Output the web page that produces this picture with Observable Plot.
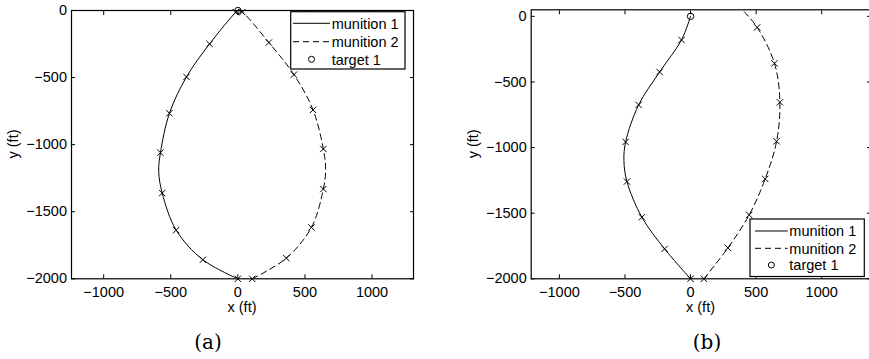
<!DOCTYPE html>
<html><head><meta charset="utf-8">
<script src="https://cdn.jsdelivr.net/npm/d3@7"></script>
<script src="https://cdn.jsdelivr.net/npm/@observablehq/plot@0.6"></script>
<style>
html,body{margin:0;padding:0;overflow:hidden;background:#fff;}
#wrap{position:relative;width:869px;height:359px;overflow:hidden;background:#fff;}
#wrap > svg{position:absolute;top:0;}
</style></head><body><div id="wrap"></div>
<script>
// ---- shared ticks ----
const xTicks = [-1000, -500, 0, 500, 1000];
const yTicks = [0, -500, -1000, -1500, -2000];

// ---- panel (a) ----
const aM1MarkX = [0, -261, -460, -564, -577, -510, -383, -211, -15];
const aM1MarkY = [-2000, -1858, -1637, -1361, -1060, -766, -495, -249, -12];
const aM1PathX = [0, -261, -460, -564, -590, -577, -510, -383, -211, -15, 0];
const aM1PathY = [-2000, -1858, -1637, -1361, -1200, -1060, -766, -495, -249, -12, 0];
const aM2MarkX = [107, 361, 548, 637, 637, 560, 418, 231, 33];
const aM2MarkY = [-2000, -1846, -1617, -1331, -1032, -741, -478, -239, -12];
const aM2PathX = [107, 361, 548, 637, 654, 637, 560, 418, 231, 33, 3];
const aM2PathY = [-2000, -1846, -1617, -1331, -1180, -1032, -741, -478, -239, -12, 0];
const aTargetX = [0];
const aTargetY = [0];

// ---- panel (b) ----
const bM1MarkX = [0, -198, -371, -485, -495, -396, -236, -69];
const bM1MarkY = [-2000, -1772, -1531, -1259, -957, -675, -424, -180];
const bM1PathX = [0, -198, -371, -485, -508, -495, -396, -236, -69, 0];
const bM1PathY = [-2000, -1772, -1531, -1259, -1100, -957, -675, -424, -180, 0];
const bM2MarkX = [102, 285, 447, 569, 656, 681, 640, 508];
const bM2MarkY = [-2000, -1764, -1513, -1239, -952, -655, -358, -84];
const bM2PathX = [102, 285, 447, 569, 656, 681, 640, 508, 400];
const bM2PathY = [-2000, -1764, -1513, -1239, -952, -655, -358, -84, 45];
const bTargetX = [0];
const bTargetY = [0];

const seriesNames = ["munition 1", "munition 2", "target 1"];
const captions = ["(a)", "(b)"];

const fmt = d => d < 0 ? "\u2212" + Math.abs(d) : String(d);
const blank = () => "";
const FONT = "'Liberation Sans', Arial, Helvetica, sans-serif";

function panel(o) {
  return Plot.plot({
    width: o.width, height: o.height,
    marginLeft: o.ml, marginRight: o.mr, marginTop: o.mt, marginBottom: o.mb,
    style: {fontFamily: FONT, fontSize: "14.5px", background: "transparent", color: "black", overflow: "visible"},
    x: {domain: o.xDomain, label: null},
    y: {domain: o.yDomain, label: null},
    marks: [
      Plot.axisX(xTicks, {anchor: "bottom", tickSize: 4, inset: 4, tickPadding: 8, tickFormat: fmt, label: null}),
      Plot.axisX(xTicks, {anchor: "top", tickSize: 4, inset: 4, tickFormat: blank, label: null}),
      Plot.axisY(yTicks, {anchor: "left", tickSize: 4, inset: 4, tickPadding: 4.5, tickFormat: fmt, label: null}),
      Plot.axisY(yTicks, {anchor: "right", tickSize: 4, inset: 4, tickFormat: blank, label: null}),
      Plot.line(o.p1x, {x: o.p1x, y: o.p1y, curve: "catmull-rom", stroke: "black", strokeWidth: 1, clip: true}),
      Plot.line(o.p2x, {x: o.p2x, y: o.p2y, curve: "catmull-rom", stroke: "black", strokeWidth: 1, strokeDasharray: "6,4", clip: true}),
      Plot.dot(o.m1x, {x: o.m1x, y: o.m1y, symbol: "times", r: 3, stroke: "black", strokeWidth: 1}),
      Plot.dot(o.m2x, {x: o.m2x, y: o.m2y, symbol: "times", r: 3, stroke: "black", strokeWidth: 1}),
      Plot.dot(o.tx, {x: o.tx, y: o.ty, r: 3.2, stroke: "black", fill: "none", strokeWidth: 1}),
      Plot.frame({stroke: "black", strokeWidth: 1.2})
    ]
  });
}

const wrap = document.getElementById("wrap");
const pa = panel({width: 434, height: 310, ml: 71, mr: 21, mt: 10, mb: 31.7,
  xDomain: [-1240, 1309], yDomain: [-2000, 0],
  p1x: aM1PathX, p1y: aM1PathY, p2x: aM2PathX, p2y: aM2PathY,
  m1x: aM1MarkX, m1y: aM1MarkY, m2x: aM2MarkX, m2y: aM2MarkY, tx: aTargetX, ty: aTargetY});
pa.style.left = "0px";
wrap.appendChild(pa);
const pb = panel({width: 440, height: 310, ml: 96.7, mr: 4, mt: 9.3, mb: 31.7,
  xDomain: [-1215, 1372], yDomain: [-2000, 50],
  p1x: bM1PathX, p1y: bM1PathY, p2x: bM2PathX, p2y: bM2PathY,
  m1x: bM1MarkX, m1y: bM1MarkY, m2x: bM2MarkX, m2y: bM2MarkY, tx: bTargetX, ty: bTargetY});
pb.style.left = "434px";
wrap.appendChild(pb);

// ---- overlay: axis titles, legends, captions ----
const ov = d3.select(wrap).append("svg").attr("width", 869).attr("height", 359).style("left", "0px")
  .style("font-family", FONT).style("font-size", "14.5px");

function axisTitles(cx, yx, cy) {
  ov.append("text").attr("x", cx).attr("y", 312).attr("text-anchor", "middle").text("x (ft)");
  ov.append("text").attr("transform", `translate(${yx},${cy}) rotate(-90)`).attr("text-anchor", "middle").text("y (ft)");
}
axisTitles(242, 17.7, 144);
axisTitles(700.5, 477.7, 143.8);

function legend(L) {
  const g = ov.append("g");
  g.append("rect").attr("x", L.x0).attr("y", L.y0).attr("width", L.x1 - L.x0).attr("height", L.y1 - L.y0)
    .attr("fill", "white").attr("stroke", "black").attr("stroke-width", 1.2);
  g.append("line").attr("x1", L.s0).attr("x2", L.s1).attr("y1", L.rows[0]).attr("y2", L.rows[0]).attr("stroke", "black");
  g.append("line").attr("x1", L.s0).attr("x2", L.s1).attr("y1", L.rows[1]).attr("y2", L.rows[1]).attr("stroke", "black").attr("stroke-dasharray", "6,4");
  g.append("circle").attr("cx", (L.s0 + L.s1) / 2).attr("cy", L.rows[2]).attr("r", 3).attr("fill", "none").attr("stroke", "black");
  seriesNames.forEach((n, i) => g.append("text").attr("x", L.tx).attr("y", L.rows[i]).attr("dy", "0.36em").text(n));
}
legend({x0: 290.7, y0: 11.7, x1: 405, y1: 69, s0: 293, s1: 330, tx: 331.7, rows: [23.3, 41.7, 59.3]});
legend({x0: 750, y0: 219, x1: 864.3, y1: 276.5, s0: 755, s1: 787.7, tx: 789.3, rows: [231, 248.3, 265]});

ov.append("text").attr("x", 208).attr("y", 349).attr("text-anchor", "middle")
  .style("font-family", "'DejaVu Serif', serif").style("font-size", "20px").text(captions[0]);
ov.append("text").attr("x", 707).attr("y", 349).attr("text-anchor", "middle")
  .style("font-family", "'DejaVu Serif', serif").style("font-size", "20px").text(captions[1]);
</script></body></html>
